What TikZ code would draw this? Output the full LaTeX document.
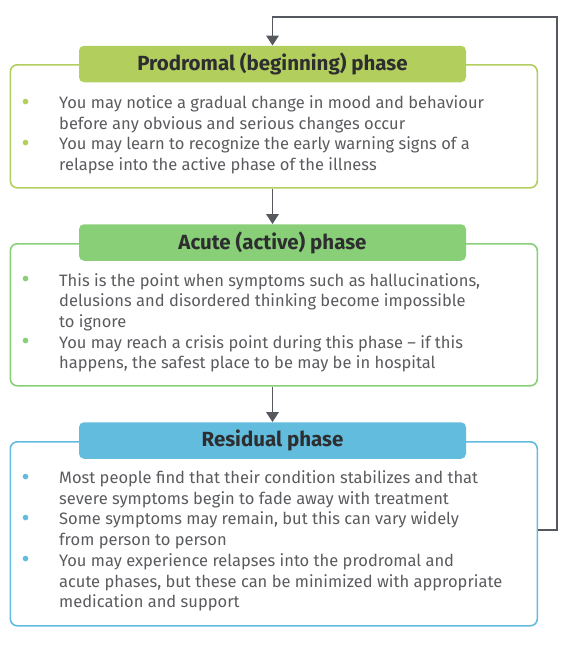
\documentclass[tikz,border=0pt]{standalone}
\usepackage{fontspec}
\setmainfont{Fira Sans}
\usetikzlibrary{arrows.meta,calc}
\definecolor{gA}{HTML}{B2CF5E}
\definecolor{gB}{HTML}{88CF78}
\definecolor{gC}{HTML}{62BCDE}
\definecolor{arr}{HTML}{55585E}
\definecolor{bodytxt}{HTML}{5A5B5E}
\definecolor{titletxt}{HTML}{2E2E30}
\tikzset{
  outerbox/.style={draw=#1, line width=1.6pt, rounded corners=7pt, minimum width=527pt, anchor=north west, inner sep=0pt},
  headbox/.style={fill=#1, rounded corners=5pt, minimum width=387pt, minimum height=36.5pt, inner sep=0pt,
     font=\fontsize{20.5}{22}\selectfont\bfseries, text=titletxt},
  bodytext/.style={align=left, anchor=north west, inner sep=0pt, text=bodytxt, font=\fontsize{16.5}{20.7}\selectfont},
  conn/.style={draw=arr, line width=1.8pt, -{Triangle[width=12.5pt,length=10pt]}},
}
\newcommand{\bul}[1]{\llap{\raisebox{-1.5pt}{\textcolor{#1}{\scalebox{1.5}{\textbullet}}}\hspace{29.5pt}}}
\begin{document}
\begin{tikzpicture}[x=1pt,y=-1pt]
\useasboundingbox (0,0) rectangle (569,645);
% boxes
\node[outerbox=gA, minimum height=123pt] (b1) at (9.5,64) {};
\node[outerbox=gB, minimum height=142pt] (b2) at (9.5,243) {};
\node[outerbox=gC, minimum height=184pt] (b3) at (9.5,441) {};
% headers
\node[headbox=gA] (h1) at (272.5,64) {Prodromal (beginning) phase};
\node[headbox=gB] (h2) at (272.5,242.5) {Acute (active) phase};
\node[headbox=gC] (h3) at (272.5,440.5) {Residual phase};
% texts
\node[bodytext] (t1) at (59,95.5) {\bul{gA}You may notice a gradual change in mood and behaviour\\
before any obvious and serious changes occur\\
\bul{gA}You may learn to recognize the early warning signs of a\\
relapse into the active phase of the illness};
\node[bodytext] (t2) at (59,273) {\bul{gB}This is the point when symptoms such as hallucinations,\\
delusions and disordered thinking become impossible\\
to ignore\\
\bul{gB}You may reach a crisis point during this phase -- if this\\
happens, the safest place to be may be in hospital};
\node[bodytext] (t3) at (59,470.5) {\bul{gC}Most people find that their condition stabilizes and that\\
severe symptoms begin to fade away with treatment\\
\bul{gC}Some symptoms may remain, but this can vary widely\\
from person to person\\
\bul{gC}You may experience relapses into the prodromal and\\
acute phases, but these can be minimized with appropriate\\
medication and support};
% connectors
\draw[conn] (b1.south -| h1.south) -- (h2.north);
\draw[conn] (b2.south -| h2.south) -- (h3.north);
\coordinate (fb) at ($(b3.east)+(0,-4)$);
\draw[conn] (fb) -| (557,17) -| (h1.north);
\end{tikzpicture}
\end{document}
